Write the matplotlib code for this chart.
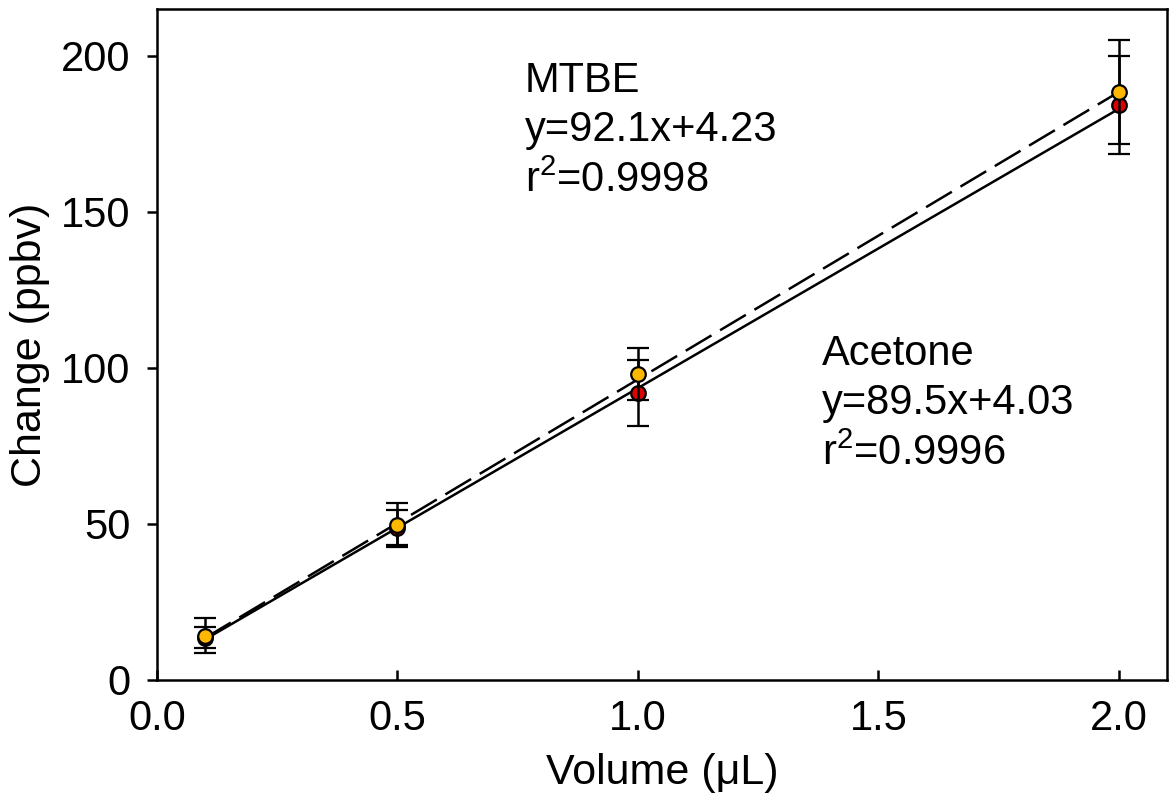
import numpy as np
import matplotlib
matplotlib.use("Agg")
import matplotlib.pyplot as plt

plt.rcParams['font.family'] = ['Liberation Sans', 'DejaVu Sans']
plt.rcParams['mathtext.fontset'] = 'custom'
plt.rcParams['mathtext.rm'] = 'Liberation Sans'
plt.rcParams['mathtext.it'] = 'Liberation Sans:italic'

# data
volume = [0.1, 0.5, 1.0, 2.0]
mtbe = [14.1, 49.7, 98.1, 188.5]
mtbe_err = [5.6, 7.0, 8.3, 16.7]
acetone = [13.6, 48.8, 92.0, 184.3]
acetone_err = [3.5, 5.6, 10.6, 15.7]

mtbe_fit = (92.1, 4.23)
acetone_fit = (89.5, 4.03)

fig = plt.figure(figsize=(11.71, 7.99), dpi=100)
ax = fig.add_axes([0.134, 0.149, 0.8626, 0.8397])

xs = np.array([volume[0], volume[-1]])
ax.plot(xs, mtbe_fit[0] * xs + mtbe_fit[1], color='black', lw=1.8,
        dashes=(12, 4), zorder=2)
ax.plot(xs, acetone_fit[0] * xs + acetone_fit[1], color='black', lw=1.8, zorder=2)

ax.errorbar(volume, acetone, yerr=acetone_err, fmt='o', color='black',
            mfc='#E00000', mec='black', ms=10.5, mew=1.6, elinewidth=1.8,
            capsize=8, capthick=1.8, zorder=3)
ax.errorbar(volume, mtbe, yerr=mtbe_err, fmt='o', color='black',
            mfc='#FFB800', mec='black', ms=10.5, mew=1.6, elinewidth=1.8,
            capsize=8, capthick=1.8, zorder=4)

ax.text(0.765, 198.5, 'MTBE\ny=92.1x+4.23\nr$^2$=0.9998', fontsize=30,
        va='top', ha='left', linespacing=1.32)
ax.text(1.383, 111, 'Acetone\ny=89.5x+4.03\nr$^2$=0.9996', fontsize=30,
        va='top', ha='left', linespacing=1.32)

ax.set_xlim(0, 2.1)
ax.set_ylim(0, 215)
ax.set_xticks([0.0, 0.5, 1.0, 1.5, 2.0])
ax.set_xticklabels(['0.0', '0.5', '1.0', '1.5', '2.0'])
ax.set_yticks([0, 50, 100, 150, 200])
ax.tick_params(axis='y', direction='out', length=7, width=1.8, labelsize=30, pad=12)
ax.tick_params(axis='x', direction='in', length=7, width=1.8, labelsize=30, pad=14)
for s in ax.spines.values():
    s.set_linewidth(1.8)

ax.set_xlabel('Volume (\u03bcL)', fontsize=31, labelpad=10)
ax.set_ylabel('Change (ppbv)', fontsize=31, labelpad=8)

fig.savefig('out.png', dpi=100)
